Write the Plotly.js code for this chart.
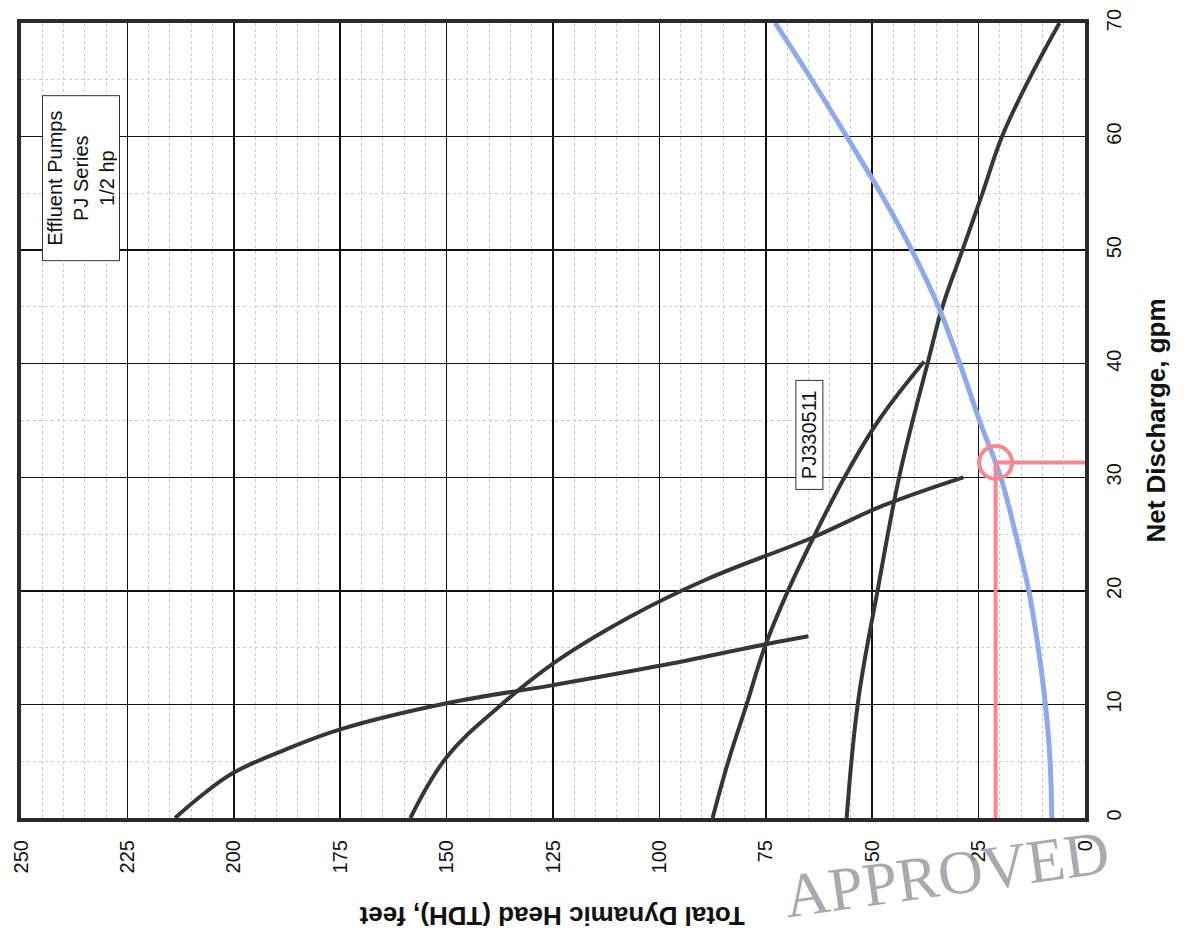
<!DOCTYPE html>
<html>
<head>
<meta charset="utf-8">
<script src="https://cdn.plot.ly/plotly-3.0.1.min.js"></script>
<style>html,body{margin:0;padding:0;background:#fff;}#chart{width:1184px;height:930px;}</style>
</head>
<body>
<div id="chart"></div>
<script>
// Net discharge (gpm) and total dynamic head (ft)
const flowPump1 = [0, 2, 4.0, 6, 7.8, 10.1, 11.7, 13.4, 15.3, 16.0];
const headPump1 = [213.8, 207.5, 200, 188, 175, 150, 125, 100, 75, 65];

const flowPump2 = [0, 5.35, 9.8, 13.6, 17.7, 21, 24.7, 27.5, 30.0];
const headPump2 = [158.5, 150, 137.7, 125, 107, 89, 64, 47.5, 28.6];

const flowPump3 = [0, 5, 10, 15, 20, 25, 30, 35, 40.2];
const headPump3 = [87.5, 83.8, 79.5, 75.3, 69.8, 63.4, 56.5, 48.5, 37.8];

const flowPump4 = [0, 10.3, 20.3, 30.3, 40.3, 45, 50, 55, 60, 65, 70];
const headPump4 = [56.0, 53.3, 48.6, 43.5, 36.8, 33.5, 28.8, 24.1, 19.5, 13.2, 6];

const flowSystem = [0, 5, 10, 15, 20, 25, 30, 35, 40, 45, 50, 55, 60, 65, 70];
const headSystem = [7.8, 8.2, 9.3, 11, 13.2, 16.3, 19.8, 24.8, 29.4, 34.4, 40.7, 48, 56, 64.2, 72.8];

const opFlow = 31.3;
const opHead = 21;

const headTicks = [0, 25, 50, 75, 100, 125, 150, 175, 200, 225, 250];
const flowTicks = [0, 10, 20, 30, 40, 50, 60, 70];

const pumpColor = '#363636';
const font = 'Liberation Sans, Arial, sans-serif';

function pumpTrace(flow, head, name) {
  return {
    x: head, y: flow, name: name, type: 'scatter', mode: 'lines',
    line: {color: pumpColor, width: 4, shape: 'spline', smoothing: 1.1},
    hoverinfo: 'skip'
  };
}

const traces = [
  pumpTrace(flowPump1, headPump1, 'Pump 1'),
  pumpTrace(flowPump2, headPump2, 'Pump 2'),
  pumpTrace(flowPump3, headPump3, 'Pump 3'),
  pumpTrace(flowPump4, headPump4, 'Pump 4'),
  {
    x: headSystem, y: flowSystem, name: 'System', type: 'scatter', mode: 'lines',
    line: {color: '#8eaae8', width: 5, shape: 'spline', smoothing: 1}
  },
  {
    x: [opHead, opHead], y: [0, opFlow], type: 'scatter', mode: 'lines',
    line: {color: '#f4888e', width: 4}
  },
  {
    x: [opHead, 0], y: [opFlow, opFlow], type: 'scatter', mode: 'lines',
    line: {color: '#f4888e', width: 4}
  },
  {
    x: [opHead], y: [opFlow], type: 'scatter', mode: 'markers',
    marker: {symbol: 'circle-open', size: 33, color: '#f4888e', line: {width: 4, color: '#f4888e'}}
  }
];

const layout = {
  width: 1184, height: 930,
  showlegend: false,
  paper_bgcolor: '#ffffff', plot_bgcolor: '#ffffff',
  margin: {l: 21, r: 99, t: 23, b: 112, pad: 0},
  font: {family: font, color: '#111'},
  xaxis: {
    range: [250, 0], tickvals: headTicks, ticktext: headTicks.map(String),
    tickangle: -90, tickfont: {size: 20, family: font, color: '#111'},
    ticks: '', ticklabelstandoff: 10,
    showgrid: true, gridcolor: '#111', gridwidth: 1.5, zeroline: false,
    showline: true, mirror: true, linecolor: '#2a2a2a', linewidth: 4,
    minor: {dtick: 5, tick0: 0, showgrid: true, gridcolor: '#cccccc', gridwidth: 1, griddash: 'dot'}
  },
  yaxis: {
    range: [0, 70], side: 'right', tickvals: flowTicks, ticktext: flowTicks.map(String),
    tickangle: -90, tickfont: {size: 20, family: font, color: '#111'},
    ticks: '', ticklabelstandoff: 8,
    showgrid: true, gridcolor: '#111', gridwidth: 1.5, zeroline: false,
    showline: true, mirror: true, linecolor: '#2a2a2a', linewidth: 4,
    minor: {dtick: 5, tick0: 0, showgrid: true, gridcolor: '#cccccc', gridwidth: 1, griddash: 'dot'},
    title: {text: '<b>Net Discharge, gpm</b>', font: {size: 26, family: font, color: '#111'}, standoff: 24}
  },
  annotations: [
    {
      xref: 'paper', yref: 'paper', x: 0.4985, y: -0.123, xanchor: 'center', yanchor: 'middle',
      text: '<b>Total Dynamic Head (TDH), feet</b>', textangle: 180, showarrow: false,
      font: {size: 26, family: font, color: '#111'}
    },
    {
      xref: 'x', yref: 'y', x: 236, y: 56.3, xanchor: 'center', yanchor: 'middle',
      text: 'Effluent Pumps<br>PJ Series<br>1/2 hp', textangle: -90, showarrow: false,
      font: {size: 20, family: font, color: '#111'}, align: 'center',
      bgcolor: '#ffffff', bordercolor: '#333', borderwidth: 1, borderpad: 2,
      width: 160, height: 72
    },
    {
      xref: 'x', yref: 'y', x: 64.7, y: 33.7, xanchor: 'center', yanchor: 'middle',
      text: 'PJ330511', textangle: -90, showarrow: false,
      font: {size: 20, family: font, color: '#111'},
      bgcolor: '#ffffff', bordercolor: '#333', borderwidth: 1, borderpad: 2,
      width: 104, height: 22
    },
    {
      xref: 'paper', yref: 'paper', x: 0.87, y: -0.071, xanchor: 'center', yanchor: 'middle',
      text: 'APPROVED', textangle: -8, showarrow: false,
      font: {size: 62, family: 'Liberation Serif, DejaVu Serif, serif', color: '#9a9ca4'},
      opacity: 0.85
    }
  ]
};

Plotly.newPlot('chart', traces, layout, {staticPlot: true, displayModeBar: false});
</script>
</body>
</html>
